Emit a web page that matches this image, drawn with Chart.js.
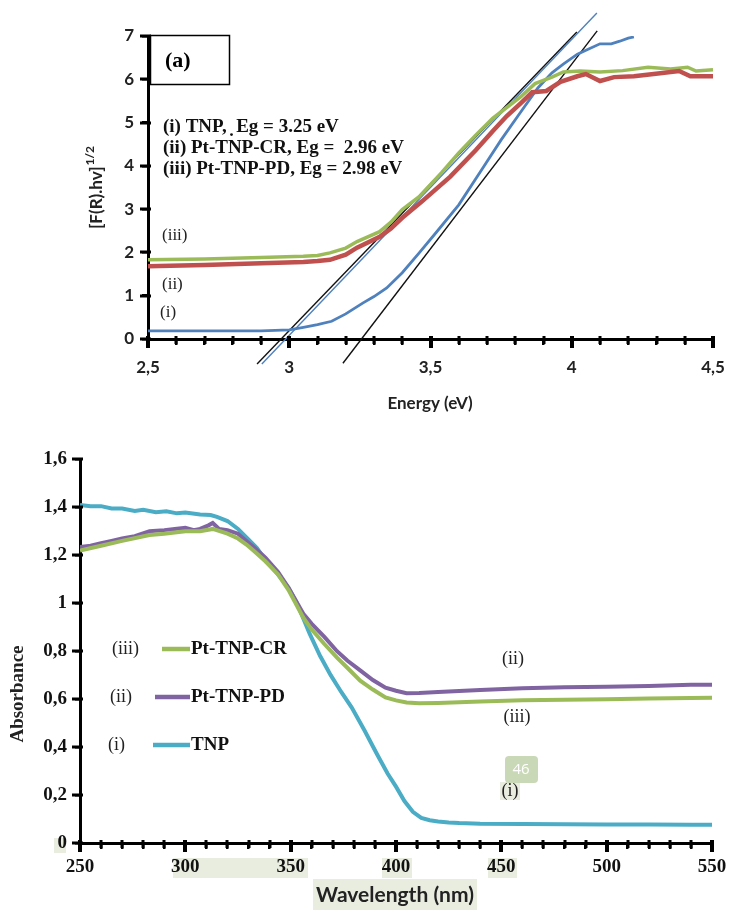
<!DOCTYPE html>
<html>
<head>
<meta charset="utf-8">
<script src="https://cdn.jsdelivr.net/npm/chart.js@4.4.1/dist/chart.umd.min.js"></script>
<style>
  html, body { margin: 0; padding: 0; background: #fff; }
  body { width: 730px; height: 912px; position: relative; overflow: hidden; }
  #c1 { position: absolute; left: 0; top: 0; }
  #c2 { position: absolute; left: 0; top: 440px; }
</style>
</head>
<body>
<canvas id="c1" width="730" height="430"></canvas>
<canvas id="c2" width="730" height="472"></canvas>
<script>
// ---------- Panel (a): Kubelka-Munk plot ----------
const energyTicks = ['2,5', '3', '3,5', '4', '4,5'];
const fTicks = ['0', '1', '2', '3', '4', '5', '6', '7'];

const energyTNP = [2.5, 2.6, 2.7, 2.8, 2.9, 3.0, 3.05, 3.1, 3.15, 3.2, 3.26, 3.3, 3.345, 3.4, 3.46, 3.52, 3.6, 3.68, 3.75, 3.82, 3.88, 3.93, 3.97, 4.02, 4.06, 4.1, 4.14, 4.17, 4.2, 4.22];
const khTNP = [0.19, 0.19, 0.19, 0.19, 0.19, 0.21, 0.27, 0.33, 0.41, 0.58, 0.83, 0.98, 1.18, 1.53, 1.99, 2.46, 3.1, 3.9, 4.6, 5.25, 5.8, 6.15, 6.35, 6.58, 6.7, 6.82, 6.82, 6.88, 6.95, 6.98];

const energyCR = [2.5, 2.7, 2.9, 3.05, 3.1, 3.144, 3.2, 3.24, 3.32, 3.36, 3.4, 3.47, 3.57, 3.66, 3.72, 3.77, 3.82, 3.86, 3.91, 3.96, 4.02, 4.05, 4.1, 4.15, 4.22, 4.29, 4.38, 4.42, 4.5];
const khCR = [1.68, 1.71, 1.75, 1.78, 1.8, 1.83, 1.95, 2.11, 2.36, 2.55, 2.8, 3.18, 3.75, 4.36, 4.8, 5.15, 5.45, 5.7, 5.73, 5.94, 6.07, 6.12, 5.96, 6.05, 6.07, 6.12, 6.19, 6.07, 6.07];

const energyPD = [2.5, 2.7, 2.9, 3.05, 3.1, 3.144, 3.2, 3.24, 3.32, 3.36, 3.4, 3.46, 3.54, 3.6, 3.66, 3.72, 3.78, 3.82, 3.87, 3.93, 3.97, 4.03, 4.1, 4.18, 4.27, 4.35, 4.41, 4.44, 4.5];
const khPD = [1.83, 1.85, 1.88, 1.91, 1.93, 1.99, 2.1, 2.25, 2.48, 2.7, 2.99, 3.29, 3.85, 4.3, 4.71, 5.1, 5.4, 5.6, 5.9, 6.05, 6.17, 6.19, 6.17, 6.2, 6.28, 6.24, 6.28, 6.19, 6.22];

// tangent (Tauc) lines: two end points each
const tangentTNPx = [3.19, 4.09];
const tangentTNPy = [-0.56, 7.12];
const tangentCRx = [2.886, 4.018];
const tangentCRy = [-0.58, 7.09];
const tangentPDx = [2.903, 4.089];
const tangentPDy = [-0.58, 7.53];

// ---------- Panel (b): UV-Vis absorbance ----------
const wavelengthTicks = ['250', '300', '350', '400', '450', '500', '550'];
const absTicks = ['0', '0,2', '0,4', '0,6', '0,8', '1', '1,2', '1,4', '1,6'];

const wlTNP = [250, 255, 260, 265, 270, 276, 280, 286, 291, 296, 300, 307, 312, 315, 320, 325, 329, 334, 338, 344, 349, 353, 359, 364, 369, 374, 379, 385, 391, 396, 400, 404, 408, 412, 416, 420, 425, 430, 440, 460, 480, 500, 520, 540, 550];
const absTNP = [1.41, 1.405, 1.405, 1.395, 1.395, 1.385, 1.39, 1.38, 1.384, 1.375, 1.378, 1.37, 1.368, 1.36, 1.343, 1.31, 1.275, 1.23, 1.18, 1.12, 1.064, 1.0, 0.873, 0.78, 0.7, 0.63, 0.565, 0.47, 0.37, 0.29, 0.235, 0.175, 0.13, 0.105, 0.095, 0.09, 0.086, 0.083, 0.08, 0.079, 0.078, 0.077, 0.077, 0.076, 0.076];

const wlPD = [250, 255, 260, 265, 270, 276, 283, 290, 295, 300, 304, 307, 311, 313, 316, 320, 325, 329, 333, 338, 344, 349, 356, 360, 366, 372, 377, 383, 389, 395, 400, 405, 411, 420, 440, 460, 480, 500, 520, 540, 550];
const absPD = [1.235, 1.24, 1.25, 1.26, 1.27, 1.28, 1.3, 1.305, 1.31, 1.315, 1.305, 1.31, 1.325, 1.335, 1.31, 1.305, 1.29, 1.26, 1.23, 1.19, 1.13, 1.064, 0.956, 0.914, 0.86, 0.8, 0.76, 0.72, 0.68, 0.648, 0.635, 0.625, 0.626, 0.63, 0.638, 0.645, 0.65, 0.652, 0.655, 0.66, 0.66];

const wlCR = [250, 260, 270, 283, 290, 300, 307, 313, 320, 325, 329, 333, 338, 344, 349, 356, 360, 366, 372, 377, 383, 389, 395, 400, 405, 411, 420, 440, 460, 480, 500, 520, 540, 550];
const absCR = [1.22, 1.24, 1.26, 1.285, 1.29, 1.3, 1.3, 1.31, 1.29, 1.27, 1.245, 1.215, 1.175, 1.12, 1.055, 0.94, 0.89, 0.83, 0.773, 0.73, 0.677, 0.64, 0.607, 0.595, 0.586, 0.583, 0.584, 0.59, 0.595, 0.598, 0.6, 0.603, 0.605, 0.606];

// ---------- helpers ----------
const pts = (xs, ys) => xs.map((x, i) => ({ x: x, y: ys[i] }));
const near = (v, step) => Math.abs(v / step - Math.round(v / step)) < 1e-6;

const C_GREEN = '#9BBB59', C_RED = '#C0504D', C_BLUE = '#4F81BD';
const C_PURPLE = '#8064A2', C_CYAN = '#4BACC6';
const SANS = 'Lato, "Open Sans", sans-serif';
const SERIF = '"Liberation Serif", "DejaVu Serif", serif';

function txt(ctx, s, x, y, font, color, align) {
  ctx.save();
  ctx.font = font; ctx.fillStyle = color || '#111';
  ctx.textAlign = align || 'left'; ctx.textBaseline = 'middle';
  ctx.fillText(s, x, y);
  ctx.restore();
}
const noSidePad = s => { s.paddingLeft = 0; s.paddingRight = 0; };

// tick marks drawn as small filled blocks at the library's own tick positions
function crossTicks(chart, majorX) {
  const ctx = chart.ctx, xs = chart.scales.x, ys = chart.scales.y;
  const axisY = chart.chartArea.bottom, axisX = chart.chartArea.left;
  ctx.save();
  ctx.fillStyle = '#000';
  for (const t of xs.ticks) {
    const px = Math.round(xs.getPixelForValue(t.value));
    const major = near(t.value, majorX);
    if (major) ctx.fillRect(px - 2, axisY - 3, 4, 12);
    else ctx.fillRect(px - 1.5, axisY - 3, 3, 8);
  }
  for (const t of ys.ticks) {
    const py = Math.round(ys.getPixelForValue(t.value));
    ctx.fillRect(axisX - 8, py - 1.5, 11, 3);
  }
  ctx.restore();
}

// ---------- Chart (a) ----------
const annotA = {
  id: 'annotA',
  afterDraw(chart) {
    const ctx = chart.ctx;
    crossTicks(chart, 0.5);
    ctx.save();
    ctx.strokeStyle = '#000'; ctx.lineWidth = 1.5;
    ctx.strokeRect(150.5, 35.5, 79, 49);
    ctx.restore();
    txt(ctx, '(a)', 165, 61, 'bold 22px ' + SERIF, '#000');
    txt(ctx, '(i) TNP, \u0323 Eg = 3.25 eV', 163, 127, 'bold 19px ' + SERIF, '#111');
    txt(ctx, '(ii) Pt-TNP-CR, Eg =  2.96 eV', 163, 148, 'bold 19px ' + SERIF, '#111');
    txt(ctx, '(iii) Pt-TNP-PD, Eg = 2.98 eV', 163, 169, 'bold 19px ' + SERIF, '#111');
    txt(ctx, '(iii)', 162, 236, '17px ' + SERIF, '#222');
    txt(ctx, '(ii)', 162, 285, '17px ' + SERIF, '#222');
    txt(ctx, '(i)', 160, 313, '17px ' + SERIF, '#222');
    txt(ctx, 'Energy (eV)', 430, 404, 'bold 17px ' + SANS, '#222', 'center');
    // y title with superscript
    ctx.save();
    ctx.translate(96, 188);
    ctx.rotate(-Math.PI / 2);
    ctx.textBaseline = 'alphabetic';
    ctx.fillStyle = '#222';
    ctx.font = 'bold 17px ' + SANS;
    const main = '[F(R).hv]';
    const w1 = ctx.measureText(main).width;
    ctx.font = 'bold 12px ' + SANS;
    const w2 = ctx.measureText('1/2').width;
    const x0 = -(w1 + w2) / 2;
    ctx.font = 'bold 17px ' + SANS;
    ctx.fillText(main, x0, 6);
    ctx.font = 'bold 12px ' + SANS;
    ctx.fillText('1/2', x0 + w1 + 1, -2);
    ctx.restore();
  }
};

const lineDS = (label, xs, ys, color, w, extra) => Object.assign({
  label: label, data: pts(xs, ys), borderColor: color, backgroundColor: color,
  borderWidth: w, pointRadius: 0, tension: 0, fill: false
}, extra || {});

new Chart(document.getElementById('c1'), {
  type: 'line',
  data: {
    datasets: [
      lineDS('(ii) Pt-TNP-CR', energyCR, khCR, C_RED, 4.5),
      lineDS('(iii) Pt-TNP-PD', energyPD, khPD, C_GREEN, 3.5),
      lineDS('(i) TNP', energyTNP, khTNP, C_BLUE, 2.8),
      lineDS('tangent PD', tangentPDx, tangentPDy, C_BLUE, 1.4, { clip: false }),
      lineDS('tangent CR', tangentCRx, tangentCRy, '#111', 1.4, { clip: false }),
      lineDS('tangent TNP', tangentTNPx, tangentTNPy, '#111', 1.4, { clip: false })
    ]
  },
  options: {
    responsive: false, animation: false, devicePixelRatio: 1,
    layout: { padding: { left: 0, right: 17, top: 36, bottom: 0 } },
    plugins: { legend: { display: false }, tooltip: { enabled: false } },
    scales: {
      x: {
        type: 'linear', min: 2.5, max: 4.5,
        afterFit: s => { s.height = 91; noSidePad(s); },
        border: { display: true, color: '#000', width: 3 },
        grid: { display: true, drawOnChartArea: false, drawTicks: true, tickLength: 6,
                color: '#000', tickColor: '#000', lineWidth: 2.5, tickWidth: 2.5 },
        ticks: {
          stepSize: 0.1, autoSkip: false, maxRotation: 0, padding: 12,
          color: '#222', font: { family: SANS, size: 17, weight: 'bold' },
          callback: v => near(v, 0.5) ? energyTicks[Math.round((v - 2.5) * 2)] : ''
        }
      },
      y: {
        type: 'linear', min: 0, max: 7,
        afterFit: s => { s.width = 148; },
        border: { display: true, color: '#000', width: 3 },
        grid: { display: true, drawOnChartArea: false, drawTicks: true, tickLength: 6,
                color: '#000', tickColor: '#000', lineWidth: 2.5, tickWidth: 2.5 },
        ticks: {
          stepSize: 1, autoSkip: false, padding: 8,
          color: '#222', font: { family: SANS, size: 17, weight: 'bold' },
          callback: v => fTicks[Math.round(v)]
        }
      }
    }
  },
  plugins: [annotA]
});

// ---------- Chart (b) ----------
const HL = '#E9EDE0';
const annotB = {
  id: 'annotB',
  beforeDraw(chart) {
    const ctx = chart.ctx;
    ctx.save();
    ctx.fillStyle = '#fff';
    ctx.fillRect(0, 0, chart.width, chart.height);
    ctx.fillStyle = HL;
    // highlight artefacts (canvas top at 440)
    ctx.fillRect(54, 838 - 440, 12, 15);
    ctx.fillRect(173, 858 - 440, 135, 20);
    ctx.fillRect(382, 858 - 440, 30, 20);
    ctx.fillRect(488, 858 - 440, 29, 20);
    ctx.fillRect(313, 879 - 440, 164, 31);
    ctx.fillRect(500, 782 - 440, 20, 18);
    ctx.restore();
  },
  afterDraw(chart) {
    const ctx = chart.ctx;
    const o = 440;
    crossTicks(chart, 50);
    const leg = [
      ['(iii)', 112, 649, C_GREEN, 162, 'Pt-TNP-CR'],
      ['(ii)', 110, 697, C_PURPLE, 155, 'Pt-TNP-PD'],
      ['(i)', 108, 745, C_CYAN, 153, 'TNP']
    ];
    leg.forEach(l => {
      txt(ctx, l[0], l[1], l[2] - o, '18px ' + SERIF, '#222');
      ctx.save();
      ctx.strokeStyle = l[3]; ctx.lineWidth = 4.5;
      ctx.beginPath(); ctx.moveTo(l[4], l[2] - o); ctx.lineTo(190, l[2] - o); ctx.stroke();
      ctx.restore();
      txt(ctx, l[5], 191, l[2] - o, 'bold 19px ' + SERIF, '#111');
    });
    txt(ctx, '(ii)', 513, 659 - o, '18px ' + SERIF, '#222', 'center');
    txt(ctx, '(iii)', 517, 717 - o, '18px ' + SERIF, '#222', 'center');
    txt(ctx, '(i)', 510, 791 - o, '18px ' + SERIF, '#222', 'center');
    // page-number badge
    ctx.save();
    ctx.fillStyle = '#C9D8B6';
    ctx.beginPath();
    ctx.roundRect(505, 756 - o, 33, 27, 4);
    ctx.fill();
    ctx.restore();
    txt(ctx, '46', 521, 770 - o, '15px "Open Sans", sans-serif', '#fff', 'center');
    // axis titles
    txt(ctx, 'Wavelength (nm)', 395, 895 - o, 'bold 21px ' + SANS, '#222', 'center');
    ctx.save();
    ctx.translate(18, 694 - o);
    ctx.rotate(-Math.PI / 2);
    txt(ctx, 'Absorbance', 0, 0, 'bold 19px ' + SERIF, '#222', 'center');
    ctx.restore();
  }
};

new Chart(document.getElementById('c2'), {
  type: 'line',
  data: {
    datasets: [
      lineDS('Pt-TNP-CR', wlCR, absCR, C_GREEN, 4),
      lineDS('Pt-TNP-PD', wlPD, absPD, C_PURPLE, 4),
      lineDS('TNP', wlTNP, absTNP, C_CYAN, 4)
    ]
  },
  options: {
    responsive: false, animation: false, devicePixelRatio: 1,
    layout: { padding: { left: 0, right: 18, top: 18, bottom: 0 } },
    plugins: { legend: { display: false }, tooltip: { enabled: false } },
    scales: {
      x: {
        type: 'linear', min: 250, max: 550,
        afterFit: s => { s.height = 69; noSidePad(s); },
        border: { display: true, color: '#000', width: 3 },
        grid: { display: true, drawOnChartArea: false, drawTicks: true, tickLength: 6,
                color: '#000', tickColor: '#000', lineWidth: 2.5, tickWidth: 2.5 },
        ticks: {
          stepSize: 10, autoSkip: false, maxRotation: 0, padding: 7,
          color: '#111', font: { family: SERIF, size: 19, weight: 'bold' },
          callback: v => near(v, 50) ? wavelengthTicks[Math.round((v - 250) / 50)] : ''
        }
      },
      y: {
        type: 'linear', min: 0, max: 1.6,
        afterFit: s => { s.width = 80; },
        border: { display: true, color: '#000', width: 3 },
        grid: { display: true, drawOnChartArea: false, drawTicks: true, tickLength: 5,
                color: '#000', tickColor: '#000', lineWidth: 2.5, tickWidth: 2.5 },
        ticks: {
          stepSize: 0.2, autoSkip: false, padding: 8,
          color: '#111', font: { family: SERIF, size: 19, weight: 'bold' },
          callback: v => absTicks[Math.round(v / 0.2)]
        }
      }
    }
  },
  plugins: [annotB]
});
</script>
</body>
</html>
